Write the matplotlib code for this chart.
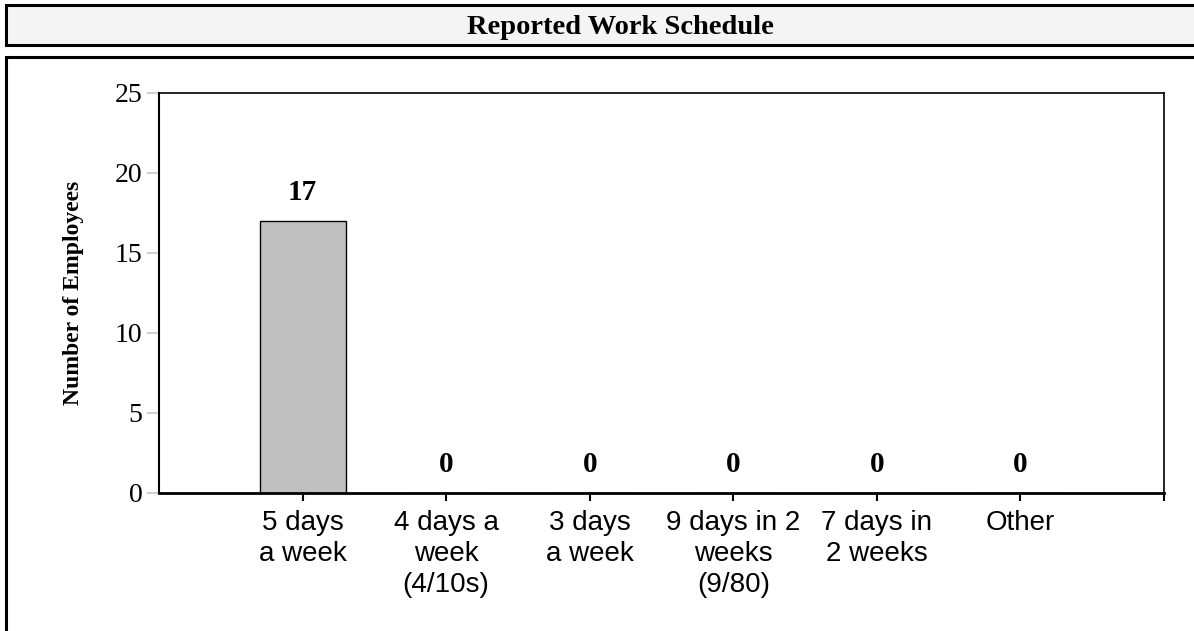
import matplotlib.pyplot as plt
from matplotlib.patches import Rectangle
import numpy as np

# Reported work schedule counts
categories = ['5 days\na week', '4 days a\nweek\n(4/10s)', '3 days\na week',
              '9 days in 2\nweeks\n(9/80)', '7 days in\n2 weeks', 'Other']
employees = [17, 0, 0, 0, 0, 0]
y_ticks = [0, 5, 10, 15, 20, 25]

W, H = 1194, 631
fig = plt.figure(figsize=(W / 100, H / 100), dpi=100)

# title box and chart box (pixel coords -> figure fraction)
def box(x0, y0, x1, y1, fc):
    r = Rectangle((x0 / W, 1 - y1 / H), (x1 - x0) / W, (y1 - y0) / H,
                  transform=fig.transFigure, fc=fc, ec='black', lw=2.2, zorder=-10)
    fig.patches.append(r)

box(6, 5, 1210, 45, '#f4f4f4')
box(6, 57, 1210, 660, 'white')
fig.text(620 / W, 1 - 28 / H, 'Reported Work Schedule', ha='center', va='center',
         family='Liberation Serif', fontweight='bold', fontsize=20.5)

ax = fig.add_axes([159 / W, 1 - 493 / H, (1164 - 159) / W, (493 - 93) / H])
ax.patch.set_alpha(0)
x = np.arange(len(categories))
ax.bar(x, employees, width=0.6, color='#c0c0c0', edgecolor='black', linewidth=1)
for xi, v in zip(x, employees):
    ax.annotate(str(v), (xi, v), xytext=(0, 20.5), textcoords='offset points',
                ha='center', va='center', family='Liberation Serif',
                fontweight='bold', fontsize=21)

ax.set_xlim(-1, 6)
ax.set_ylim(0, 25)
ax.set_yticks(y_ticks)
ax.set_yticklabels([str(t) for t in y_ticks], family='Liberation Serif', fontsize=20)
ax.tick_params(axis='y', color='#c8c8c8', length=9, width=1.2, pad=3)
ax.set_xticks(x)
ax.set_xticklabels(categories, family='Liberation Sans', fontsize=20, linespacing=1.27)
ax.set_xticks([6], minor=True)
ax.tick_params(axis='x', which='both', color='black', length=6, width=1.5, pad=6)
for s in ['top', 'right']:
    ax.spines[s].set_linewidth(1.2)
ax.spines['left'].set_linewidth(1.5)
ax.spines['bottom'].set_linewidth(2)
ax.set_ylabel('Number of Employees', family='Liberation Serif', fontweight='bold',
              fontsize=17, labelpad=22)

fig.savefig('out.png', dpi=100)
